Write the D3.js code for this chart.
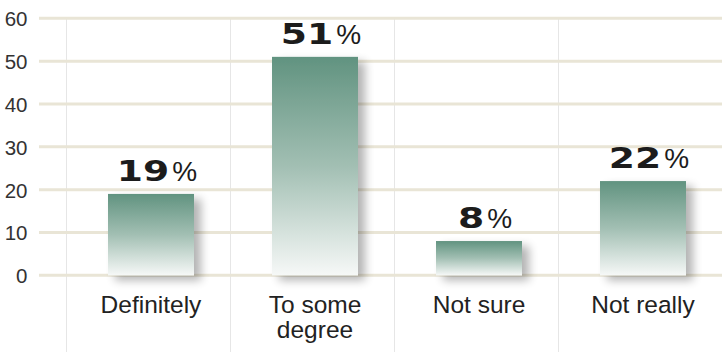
<!DOCTYPE html>
<html>
<head>
<meta charset="utf-8">
<script src="https://cdn.jsdelivr.net/npm/d3@7"></script>
<style>
  html, body { margin: 0; padding: 0; background: #ffffff; }
  svg { display: block; }
</style>
</head>
<body>
<svg id="chart" width="722" height="352"></svg>
<script>
// Survey answers and their shares (%)
const categories = ["Definitely", "To some degree", "Not sure", "Not really"];
const categoryLines = [["Definitely"], ["To some", "degree"], ["Not sure"], ["Not really"]];
const values = [19, 51, 8, 22];
const yTicks = [0, 10, 20, 30, 40, 50, 60];

const svg = d3.select("#chart");
const width = 722;

const y = d3.scaleLinear().domain([0, 60]).range([275.3, 18.3]);
const x = d3.scaleBand().domain(categories).range([66, 722]).padding(0);
const barWidth = 86;
const barShift = 3;
const barX = d => x(d) + x.bandwidth() / 2 + barShift - barWidth / 2;

// Definitions: bar gradient and soft drop shadow
const defs = svg.append("defs");
const grad = defs.append("linearGradient")
  .attr("id", "barFill").attr("x1", 0).attr("y1", 0).attr("x2", 0).attr("y2", 1);
grad.append("stop").attr("offset", "0%").attr("stop-color", "#619380");
grad.append("stop").attr("offset", "50%").attr("stop-color", "#a2bfb3");
grad.append("stop").attr("offset", "100%").attr("stop-color", "#f6f8f7");

const shadow = defs.append("filter").attr("id", "barShadow")
  .attr("x", "-30%").attr("y", "-30%").attr("width", "170%").attr("height", "170%");
shadow.append("feGaussianBlur").attr("in", "SourceAlpha").attr("stdDeviation", 5).attr("result", "blur");
shadow.append("feOffset").attr("in", "blur").attr("dx", 7).attr("dy", 5).attr("result", "off");
shadow.append("feComponentTransfer").attr("in", "off").attr("result", "soft")
  .append("feFuncA").attr("type", "linear").attr("slope", 0.3);
const merge = shadow.append("feMerge");
merge.append("feMergeNode").attr("in", "soft");
merge.append("feMergeNode").attr("in", "SourceGraphic");

// Vertical separators at category band edges
svg.append("g").selectAll("line")
  .data(categories)
  .join("line")
  .attr("x1", d => Math.round(x(d)) + 0.5)
  .attr("x2", d => Math.round(x(d)) + 0.5)
  .attr("y1", y(60))
  .attr("y2", 352)
  .attr("stroke", "#e6e6e6")
  .attr("stroke-width", 1);

// Horizontal gridlines
svg.append("g").selectAll("line")
  .data(yTicks)
  .join("line")
  .attr("x1", 39)
  .attr("x2", width)
  .attr("y1", d => y(d))
  .attr("y2", d => y(d))
  .attr("stroke", "#e9e5d6")
  .attr("stroke-width", 3);

// Y axis labels
const yAxis = d3.axisLeft(y).tickValues(yTicks).tickSize(0).tickPadding(0);
const yg = svg.append("g").attr("transform", "translate(27.5,0)").call(yAxis);
yg.select(".domain").remove();
yg.selectAll("text")
  .attr("font-family", "'Liberation Sans', Arial, sans-serif")
  .attr("font-size", 20.5)
  .attr("fill", "#333333")
  .attr("dy", "0.36em");

// Bars
svg.append("g").selectAll("rect")
  .data(values)
  .join("rect")
  .attr("x", (d, i) => barX(categories[i]))
  .attr("y", d => y(d))
  .attr("width", barWidth)
  .attr("height", d => y(0) - y(d))
  .attr("fill", "url(#barFill)")
  .attr("filter", "url(#barShadow)");

// Value labels above bars: wide bold digits followed by a lighter percent sign
const digitStretch = 1.3;
const pctGap = 3;
const labelGroups = svg.append("g").selectAll("g")
  .data(values)
  .join("g")
  .attr("transform", (d, i) =>
    `translate(${barX(categories[i]) + barWidth / 2 + 6},${y(d) - 13})`);

labelGroups.each(function (d) {
  const g = d3.select(this);
  const num = g.append("text")
    .attr("font-family", "'DejaVu Sans', sans-serif")
    .attr("font-weight", "bold")
    .attr("font-size", 29)
    .attr("fill", "#1c1c1c")
    .text(d);
  const pct = g.append("text")
    .attr("font-family", "'Liberation Sans', Arial, sans-serif")
    .attr("font-size", 28)
    .attr("fill", "#1c1c1c")
    .text("%");
  const wNum = num.node().getComputedTextLength() * digitStretch;
  const wPct = pct.node().getComputedTextLength();
  const left = -(wNum + pctGap + wPct) / 2;
  num.attr("transform", `translate(${left},0) scale(${digitStretch},1)`);
  pct.attr("x", left + wNum + pctGap);
});

// Category labels
const cat = svg.append("g").selectAll("text")
  .data(categories)
  .join("text")
  .attr("x", d => x(d) + x.bandwidth() / 2 + barShift)
  .attr("y", 313)
  .attr("text-anchor", "middle")
  .attr("font-family", "'Liberation Sans', Arial, sans-serif")
  .attr("font-size", 24.5)
  .attr("fill", "#222222");
cat.selectAll("tspan")
  .data((d, i) => categoryLines[i])
  .join("tspan")
  .attr("x", function () { return d3.select(this.parentNode).attr("x"); })
  .attr("dy", (d, j) => j === 0 ? 0 : 25)
  .text(d => d);
</script>
</body>
</html>
